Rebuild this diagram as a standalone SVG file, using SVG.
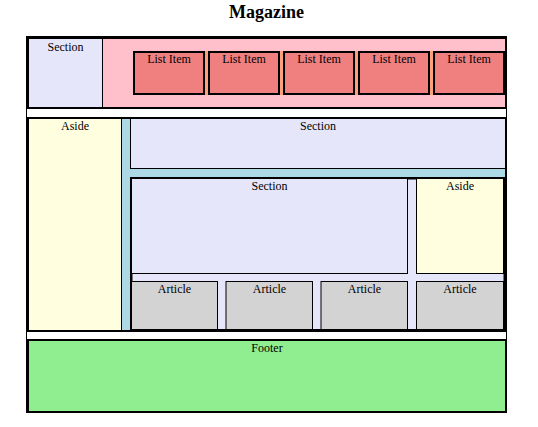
<svg xmlns="http://www.w3.org/2000/svg" width="538" height="427" viewBox="0 0 538 427">
<style>
text{font-family:"Liberation Serif","Times New Roman",serif;font-size:12px;fill:#000;text-anchor:middle}
.title{font-size:18px;font-weight:bold}
.b1{stroke:#000;stroke-width:1}
.b2{stroke:#000;stroke-width:2}
.sec{fill:#E6E6FA}
.asd{fill:#FFFFE0}
.li{fill:#F08080;stroke:#000;stroke-width:2}
.art{fill:#D3D3D3;stroke:#000;stroke-width:1}
</style>
<rect width="538" height="427" fill="#fff"/>
<text class="title" x="266.5" y="18">Magazine</text>
<g id="page">
<rect x="26.5" y="36.5" width="480" height="376" fill="#fff" class="b1"/>
</g>
<g id="header">
<rect x="28" y="38" width="478" height="70" fill="#FFC0CB"/>
<g id="header-section">
<rect x="28.5" y="38.5" width="74" height="69" class="sec b1"/>
<text x="65.5" y="50.5">Section</text>
</g>
<g id="list">
<rect x="133" y="51" width="372" height="44" fill="#FFA07A"/>
<g id="li1"><rect x="134" y="52" width="70" height="42" class="li"/><text x="169" y="63">List Item</text></g>
<g id="li2"><rect x="209" y="52" width="70" height="42" class="li"/><text x="244" y="63">List Item</text></g>
<g id="li3"><rect x="284" y="52" width="70" height="42" class="li"/><text x="319" y="63">List Item</text></g>
<g id="li4"><rect x="359" y="52" width="70" height="42" class="li"/><text x="394" y="63">List Item</text></g>
<g id="li5"><rect x="434" y="52" width="70" height="42" class="li"/><text x="469" y="63">List Item</text></g>
</g>
<rect x="28" y="38" width="478" height="70" fill="none" class="b2"/>
</g>
<g id="main">
<rect x="28" y="118" width="478" height="213" fill="#ADD8E6"/>
<g id="main-aside">
<rect x="28.5" y="118.5" width="93" height="212" class="asd b1"/>
<text x="75" y="130">Aside</text>
</g>
<g id="main-section">
<rect x="130.5" y="118.5" width="375" height="50" class="sec b1"/>
<text x="318" y="130">Section</text>
</g>
<g id="content">
<rect x="131.25" y="178.25" width="373.5" height="152" class="sec" stroke="#000" stroke-width="2.5"/>
<g id="content-section">
<rect x="131.5" y="178.5" width="276" height="95" class="sec b1"/>
<text x="269.5" y="190">Section</text>
</g>
<g id="content-aside">
<rect x="416.5" y="178.5" width="87" height="95" class="asd b1"/>
<text x="460" y="190">Aside</text>
</g>
<g id="article1"><rect x="131.5" y="281.5" width="86" height="48" class="art"/><text x="174.5" y="293">Article</text></g>
<g id="article2"><rect x="226" y="281.5" width="86.5" height="48" class="art"/><text x="269.5" y="293">Article</text></g>
<g id="article3"><rect x="321" y="281.5" width="86.5" height="48" class="art"/><text x="364.5" y="293">Article</text></g>
<g id="article4"><rect x="416.5" y="281.5" width="87" height="48" class="art"/><text x="460" y="293">Article</text></g>
</g>
<rect x="28" y="118" width="478" height="213" fill="none" class="b2"/>
</g>
<g id="footer">
<rect x="28" y="340" width="478" height="72" fill="#90EE90" class="b2"/>
<text x="267" y="351.5">Footer</text>
</g>
<g id="connectors"/>
</svg>
